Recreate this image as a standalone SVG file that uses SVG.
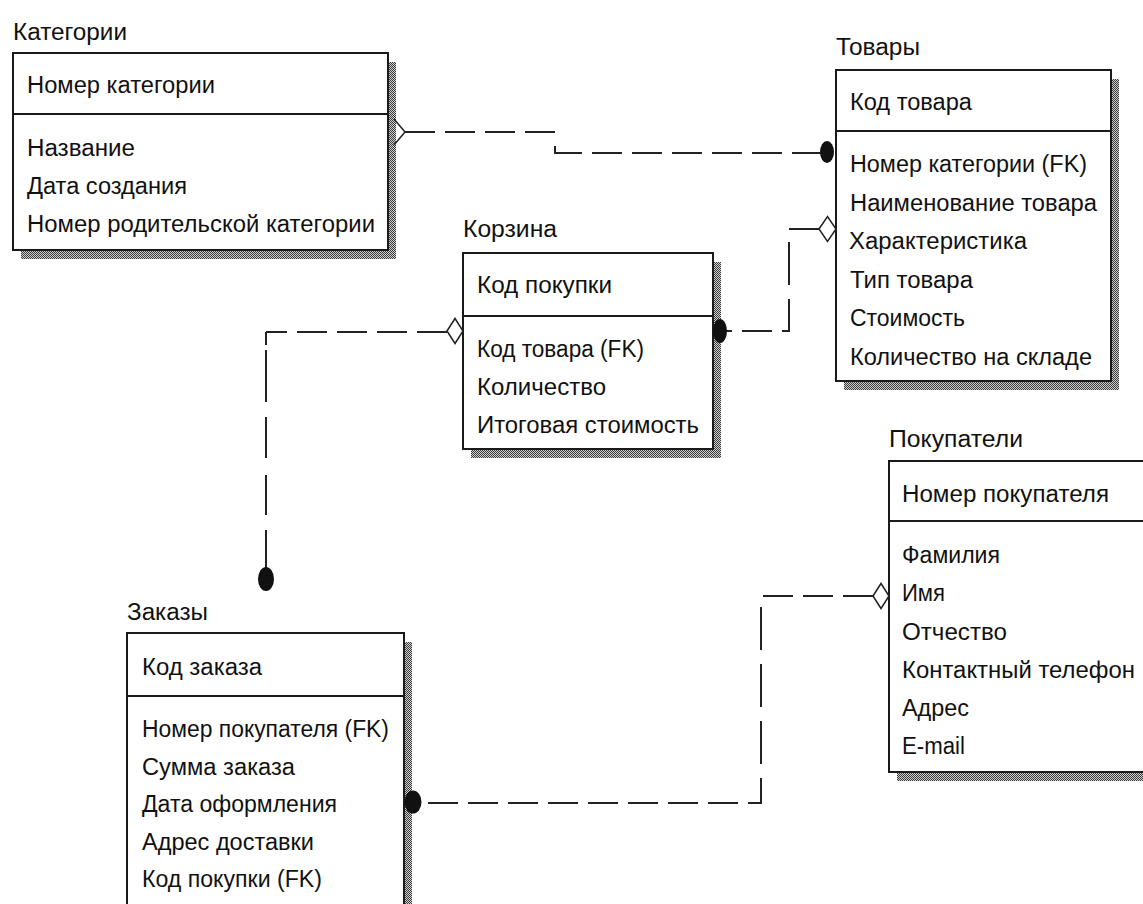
<svg xmlns="http://www.w3.org/2000/svg" width="1143" height="904" viewBox="0 0 1143 904">
  <style>
    .t { font-family: "Liberation Sans", Arial, sans-serif; font-size: 23px; fill: #111; }
    .box { fill: #fff; stroke: #1a1a1a; stroke-width: 2; }
    .div { stroke: #1a1a1a; stroke-width: 2; }
    .shadow { fill: url(#dither); }
    .ln { stroke: #222; stroke-width: 2; fill: none; }
    .h { stroke-dasharray: 30 10; }
    .dot { fill: #111; }
    .dia { fill: #fff; stroke: #222; stroke-width: 1.5; }
  </style>
  <defs>
    <pattern id="dither" width="2" height="2" patternUnits="userSpaceOnUse">
      <rect width="2" height="2" fill="#cfcfcf"/>
      <rect width="1" height="1" fill="#3a3a3a"/>
      <rect x="1" y="1" width="1" height="1" fill="#3a3a3a"/>
    </pattern>
  </defs>
  <rect width="1143" height="904" fill="#fff"/>

  <!-- Entities -->
  <g id="kategorii">
    <rect class="shadow" x="21" y="62" width="375" height="197"/>
    <rect class="box" x="13" y="53" width="375" height="197"/>
    <line class="div" x1="13" y1="114" x2="388" y2="114"/>
    <text class="t" x="13" y="40" textLength="114" lengthAdjust="spacingAndGlyphs">Категории</text>
    <text class="t" x="27" y="93" textLength="188" lengthAdjust="spacingAndGlyphs">Номер категории</text>
    <text class="t" x="27" y="156" textLength="108" lengthAdjust="spacingAndGlyphs">Название</text>
    <text class="t" x="27" y="194" textLength="160" lengthAdjust="spacingAndGlyphs">Дата создания</text>
    <text class="t" x="27" y="232" textLength="348" lengthAdjust="spacingAndGlyphs">Номер родительской категории</text>
  </g>

  <g id="tovary">
    <rect class="shadow" x="844" y="79" width="275" height="311"/>
    <rect class="box" x="836" y="70" width="275" height="311"/>
    <line class="div" x1="836" y1="131" x2="1111" y2="131"/>
    <text class="t" x="836" y="55" textLength="84" lengthAdjust="spacingAndGlyphs">Товары</text>
    <text class="t" x="850" y="110" textLength="122" lengthAdjust="spacingAndGlyphs">Код товара</text>
    <text class="t" x="850" y="172" textLength="237" lengthAdjust="spacingAndGlyphs">Номер категории (FK)</text>
    <text class="t" x="850" y="210.5" textLength="247" lengthAdjust="spacingAndGlyphs">Наименование товара</text>
    <text class="t" x="849" y="249" textLength="178" lengthAdjust="spacingAndGlyphs">Характеристика</text>
    <text class="t" x="850" y="287.5" textLength="123" lengthAdjust="spacingAndGlyphs">Тип товара</text>
    <text class="t" x="850" y="326" textLength="115" lengthAdjust="spacingAndGlyphs">Стоимость</text>
    <text class="t" x="850" y="364.5" textLength="242" lengthAdjust="spacingAndGlyphs">Количество на складе</text>
  </g>

  <g id="korzina">
    <rect class="shadow" x="471" y="262" width="250" height="196"/>
    <rect class="box" x="463" y="253" width="250" height="196"/>
    <line class="div" x1="463" y1="316" x2="713" y2="316"/>
    <text class="t" x="463" y="237" textLength="94" lengthAdjust="spacingAndGlyphs">Корзина</text>
    <text class="t" x="477" y="293" textLength="135" lengthAdjust="spacingAndGlyphs">Код покупки</text>
    <text class="t" x="477" y="357" textLength="167" lengthAdjust="spacingAndGlyphs">Код товара (FK)</text>
    <text class="t" x="477" y="395" textLength="129" lengthAdjust="spacingAndGlyphs">Количество</text>
    <text class="t" x="477" y="433" textLength="222" lengthAdjust="spacingAndGlyphs">Итоговая стоимость</text>
  </g>

  <g id="zakazy">
    <rect class="shadow" x="135" y="642" width="277" height="300"/>
    <rect class="box" x="127" y="633" width="277" height="300"/>
    <line class="div" x1="127" y1="696" x2="404" y2="696"/>
    <text class="t" x="127" y="620" textLength="81" lengthAdjust="spacingAndGlyphs">Заказы</text>
    <text class="t" x="142" y="675" textLength="120" lengthAdjust="spacingAndGlyphs">Код заказа</text>
    <text class="t" x="142" y="737" textLength="247" lengthAdjust="spacingAndGlyphs">Номер покупателя (FK)</text>
    <text class="t" x="142" y="775" textLength="153" lengthAdjust="spacingAndGlyphs">Сумма заказа</text>
    <text class="t" x="142" y="812" textLength="195" lengthAdjust="spacingAndGlyphs">Дата оформления</text>
    <text class="t" x="142" y="850" textLength="172" lengthAdjust="spacingAndGlyphs">Адрес доставки</text>
    <text class="t" x="142" y="887" textLength="180" lengthAdjust="spacingAndGlyphs">Код покупки (FK)</text>
  </g>

  <g id="pokupateli">
    <rect class="shadow" x="897" y="470" width="280" height="311"/>
    <rect class="box" x="889" y="461" width="280" height="311"/>
    <line class="div" x1="889" y1="521" x2="1169" y2="521"/>
    <text class="t" x="889" y="447" textLength="134" lengthAdjust="spacingAndGlyphs">Покупатели</text>
    <text class="t" x="902" y="502" textLength="207" lengthAdjust="spacingAndGlyphs">Номер покупателя</text>
    <text class="t" x="902" y="563" textLength="98" lengthAdjust="spacingAndGlyphs">Фамилия</text>
    <text class="t" x="902" y="601" textLength="43" lengthAdjust="spacingAndGlyphs">Имя</text>
    <text class="t" x="902" y="639.5" textLength="105" lengthAdjust="spacingAndGlyphs">Отчество</text>
    <text class="t" x="902" y="677.5" textLength="233" lengthAdjust="spacingAndGlyphs">Контактный телефон</text>
    <text class="t" x="902" y="716" textLength="67" lengthAdjust="spacingAndGlyphs">Адрес</text>
    <text class="t" x="902" y="754" textLength="63" lengthAdjust="spacingAndGlyphs">E-mail</text>
  </g>

  <!-- Relationships -->
  <g id="connectors">
    <!-- Категории -> Товары -->
    <g id="rel-kategorii-tovary">
      <polyline class="ln" style="stroke-width:1.5" points="394,119 405,132 394,145"/>
      <line class="ln h" x1="555" y1="132" x2="405" y2="132"/>
      <line class="ln h" x1="822" y1="153" x2="555" y2="153"/>
      <line class="ln" x1="555" y1="146" x2="555" y2="154"/>
      <ellipse class="dot" cx="827" cy="152" rx="7" ry="11"/>
    </g>
    <!-- Товары -> Корзина -->
    <g id="rel-tovary-korzina">
      <line class="ln" x1="820" y1="229" x2="789" y2="229"/>
      <line class="ln" x1="789" y1="242" x2="789" y2="332" style="stroke-dasharray:43 14"/>
      <line class="ln" x1="789" y1="331" x2="724" y2="331" style="stroke-dasharray:7 10 30 10"/>
      <polygon class="dia" points="819,229 827.5,216.5 836,229 827.5,241.5"/>
      <ellipse class="dot" cx="720" cy="331" rx="7" ry="12"/>
    </g>
    <!-- Корзина -> Заказы -->
    <g id="rel-korzina-zakazy">
      <line class="ln h" x1="447" y1="332" x2="266" y2="332"/>
      <line class="ln" x1="266" y1="332" x2="266" y2="570" style="stroke-dasharray:13 5 52 15 41 17 40 15 40"/>
      <polygon class="dia" points="447,331 455,318.5 463,331 455,343.5"/>
      <ellipse class="dot" cx="266" cy="579" rx="8" ry="12"/>
    </g>
    <!-- Заказы -> Покупатели -->
    <g id="rel-zakazy-pokupateli">
      <line class="ln h" x1="873" y1="596" x2="761" y2="596"/>
      <line class="ln" x1="761" y1="607" x2="761" y2="804" style="stroke-dasharray:43 14"/>
      <line class="ln h" x1="761" y1="803" x2="422" y2="803" style="stroke-dashoffset:17"/>
      <polygon class="dia" points="873,596 881,583.5 889,596 881,608.5"/>
      <ellipse class="dot" cx="413" cy="802" rx="8.5" ry="11.5"/>
    </g>
  </g>
</svg>
